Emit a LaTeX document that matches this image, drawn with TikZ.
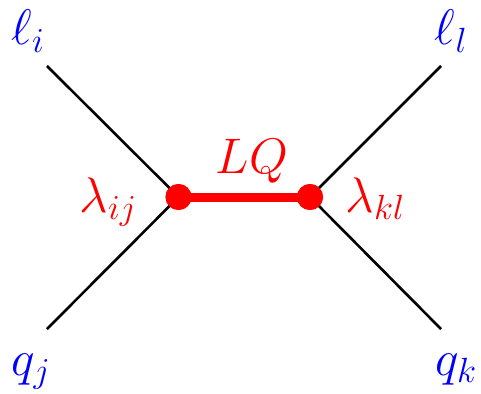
\RequirePackage{fix-cm}
\documentclass[tikz,border=0pt]{standalone}
\begin{document}
\begin{tikzpicture}[x=1pt,y=-1pt,
  leg/.style={line width=2.6pt,black},
  lab/.style={inner sep=0pt,anchor=base,font=\fontsize{50}{60}\selectfont},
  blab/.style={lab,text=blue},
  rlab/.style={lab,text=red},
  vtx/.style={circle,fill=red,inner sep=0pt,minimum size=26pt}]
\useasboundingbox (0,0) rectangle (481,393);
\coordinate (a) at (47,66);
\coordinate (b) at (47,329);
\coordinate (c) at (441,66);
\coordinate (d) at (441,329);
\node[vtx] (v1) at (178.5,197) {};
\node[vtx] (v2) at (310,197) {};
\draw[leg] (a) -- (v1.center) -- (b);
\draw[leg] (c) -- (v2.center) -- (d);
\draw[red,line width=9pt] (v1.center) -- (v2.center);
\node[vtx] at (v1) {};
\node[vtx] at (v2) {};
\node[blab] (li) at (28,45) {$\ell_i$};
\node[blab] (ll) at (451,45) {$\ell_l$};
\node[blab] (qj) at (31,375) {$q_j$};
\node[blab] (qk) at (456,375) {$q_k$};
\node[rlab] (lij) at (108,212) {$\lambda_{ij}$};
\node[rlab] (lkl) at (375,212) {$\lambda_{kl}$};
\node[rlab] (lq) at (252,173) {$LQ$};
\end{tikzpicture}
\end{document}
